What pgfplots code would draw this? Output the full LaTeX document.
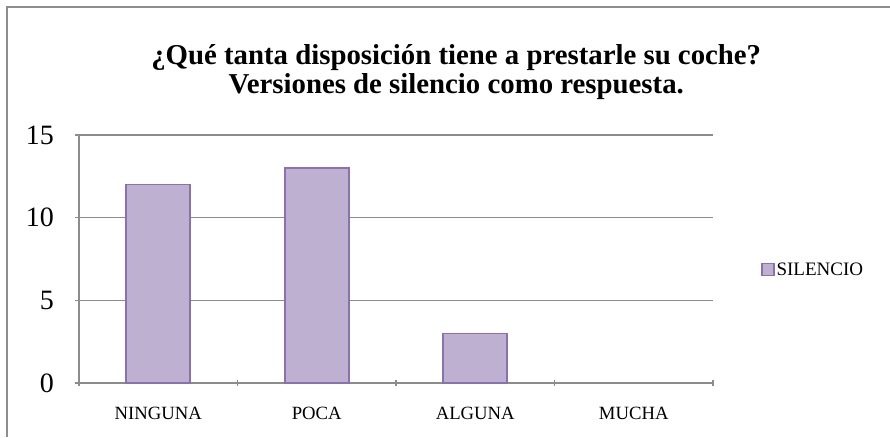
\documentclass[border=0pt]{standalone}
\usepackage{fontspec}
\setmainfont{Liberation Serif}
\usepackage{pgfplots}
\pgfplotsset{compat=1.18}
\definecolor{barfill}{HTML}{BDB0D0}
\definecolor{barline}{HTML}{8A72B0}
\definecolor{gridgray}{HTML}{8C8C8C}
\definecolor{framegray}{HTML}{8E8E8E}
\begin{document}
\begin{tikzpicture}
\path[use as bounding box] (0,0) rectangle (890pt,437pt);
\draw[framegray, line width=1.6pt] (7pt,0) -- (7pt,430pt) -- (890pt,430pt);
\begin{axis}[
    at={(79pt,54pt)}, anchor=south west,
    scale only axis,
    width=634pt, height=248pt,
    ybar, bar width=64pt,
    xmin=-0.5, xmax=3.5,
    ymin=0, ymax=15,
    xtick={0,1,2,3},
    xticklabels={NINGUNA,POCA,ALGUNA,MUCHA},
    minor xtick={-0.5,0.5,1.5,2.5,3.5},
    ytick={0,5,10,15},
    major x tick style={draw=none},
    tick align=outside,
    minor tick length=6pt,
    major tick length=7pt,
    axis x line=bottom, axis y line=left,
    axis line style={-, gridgray, line width=1.4pt},
    every tick/.style={gridgray, line width=1.4pt},
    ymajorgrids,
    grid style={gridgray, line width=1.4pt},
    /pgf/number format/assume math mode=true,
    xticklabel style={font=\fontsize{18.7}{18.7}\selectfont, yshift=-17pt},
    yticklabel style={font=\fontsize{28}{28}\selectfont, xshift=-18pt},
    title={¿Qué tanta disposición tiene a prestarle su coche?\\[0pt]Versiones de silencio como respuesta.},
    title style={font=\bfseries\fontsize{28.8}{28.8}\selectfont, align=center,
        at={(rel axis cs:0.595,1.105)}, anchor=south},
    legend style={draw=none, at={(rel axis cs:1.076,0.457)}, anchor=west,
        font=\fontsize{19}{19}\selectfont, inner sep=0pt},
    legend image code/.code={\draw[fill=barfill, draw=barline, line width=1.2pt] (0pt,-6pt) rectangle (12pt,6pt);},
]
% MUCHA = 0, not drawn (zero-height bar)
\addplot[fill=barfill, draw=barline, line width=1.6pt] coordinates {
    (0,12) (1,13) (2,3)
};
\addlegendentry{SILENCIO}
\end{axis}
\end{tikzpicture}
\end{document}
